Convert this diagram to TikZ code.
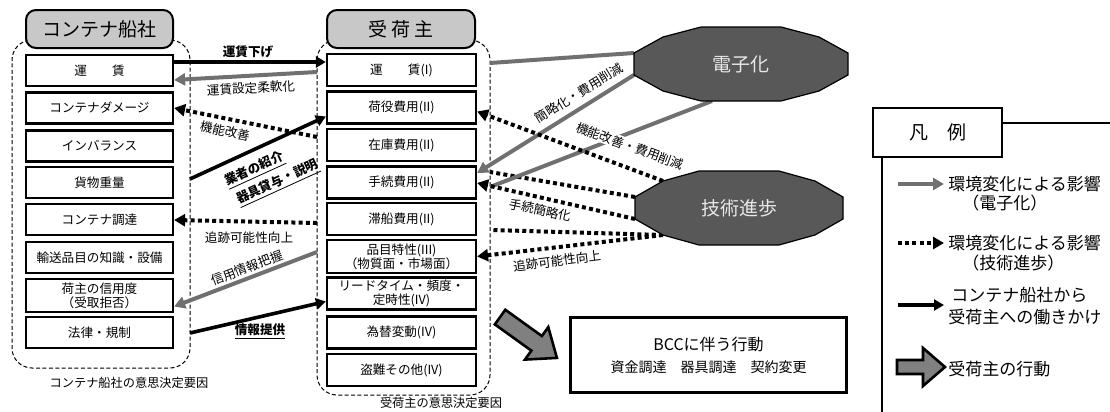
\documentclass[tikz,border=0pt]{standalone}
\usepackage{fontspec}
\setmainfont{Noto Sans CJK JP}
\usetikzlibrary{arrows.meta,calc}
\definecolor{lgray}{HTML}{707070}
\definecolor{hdrgray}{HTML}{C8C8C8}
\definecolor{octfill}{HTML}{585858}
\definecolor{octtext}{HTML}{E8E8E8}
\definecolor{blkfill}{HTML}{808080}
\begin{document}
\begin{tikzpicture}[x=0.5pt,y=-0.5pt,
  cbox/.style={draw, line width=1.1pt, fill=white, minimum width=73.5pt, minimum height=15.5pt, inner sep=0pt, align=center, font=\fontsize{6.3pt}{7pt}\selectfont},
  mbox/.style={cbox, minimum width=74.5pt, minimum height=16pt},
  hdr/.style={draw, line width=1pt, fill=hdrgray, rounded corners=5pt, minimum width=73.5pt, minimum height=19pt, inner sep=0pt, font=\fontsize{9.5pt}{11pt}\selectfont},
  frame/.style={draw, line width=0.5pt, dash pattern=on 2pt off 1.2pt, rounded corners=10pt, inner sep=0pt},
  lbl/.style={inner sep=0.5pt, font=\fontsize{6.3pt}{7pt}\selectfont},
  blbl/.style={inner sep=0.5pt, font=\fontsize{6.3pt}{7pt}\selectfont\bfseries},
  captxt/.style={inner sep=0pt, font=\fontsize{6.1pt}{7pt}\selectfont},
  push/.style={line width=1.8pt, -{Triangle[length=5pt,width=5.5pt]}},
  elec/.style={draw=lgray, line width=2pt},
  elecarr/.style={elec, -{Triangle[length=5.5pt,width=6pt]}},
  tech/.style={line width=2pt, dash pattern=on 2pt off 1.6pt},
  techarr/.style={tech, -{Triangle[length=5.5pt,width=6pt]}},
  octa/.style={draw, line width=0.6pt, fill=octfill},
  octlbl/.style={text=octtext, inner sep=0pt, font=\fontsize{9.5pt}{11pt}\selectfont},
  blk/.style={draw, line width=1.3pt, fill=blkfill, line join=miter},
  legtxt/.style={anchor=west, inner sep=0pt, font=\fontsize{8.5pt}{10.5pt}\selectfont},
]
\useasboundingbox (0,0) rectangle (1110,412);
% frames
\node[frame, minimum width=89pt, minimum height=164pt] (LF) at (101,204) {};
\node[frame, minimum width=86.5pt, minimum height=177.5pt] (MF) at (403.5,217.5) {};
% headers
\node[hdr] (LH) at (99.5,29) {コンテナ船社};
\node[hdr, minimum width=74pt] (MH) at (401,29) {受 荷 主};
% left boxes
\node[cbox] (L1) at (99.5,70.5) {運　　賃};
\node[cbox] (L2) at (99.5,108) {コンテナダメージ};
\node[cbox] (L3) at (99.5,146) {インバランス};
\node[cbox] (L4) at (99.5,182.5) {貨物重量};
\node[cbox] (L5) at (99.5,219.5) {コンテナ調達};
\node[cbox] (L6) at (99.5,257.5) {輸送品目の知識・設備};
\node[cbox, minimum height=16.5pt] (L7) at (99.5,295.5) {荷主の信用度\\（受取拒否）};
\node[cbox] (L8) at (99.5,332.5) {法律・規制};
% middle boxes
\node[mbox] (M1) at (401.5,70) {運　　賃(I)};
\node[mbox] (M2) at (401.5,107.5) {荷役費用(II)};
\node[mbox] (M3) at (401.5,145) {在庫費用(II)};
\node[mbox] (M4) at (401.5,182.5) {手続費用(II)};
\node[mbox] (M5) at (401.5,219) {滞船費用(II)};
\node[mbox, minimum height=16.5pt] (M6) at (401.5,256.5) {品目特性(III)\\（物質面・市場面）};
\node[mbox] (M7) at (401.5,293.5) {リードタイム・頻度・\\定時性(IV)};
\node[mbox] (M8) at (401.5,332.5) {為替変動(IV)};
\node[mbox] (M9) at (401.5,370) {盗難その他(IV)};
% captions
\node[captxt] (LC) at (129,383) {コンテナ船社の意思決定要因};
\node[captxt] (MC) at (441,403) {受荷主の意思決定要因};
% octagon anchors
\coordinate (dc) at (741,64);
\coordinate (tc) at (739,208);
\coordinate (e1) at ($(dc)+(-107,-11)$);
\coordinate (e2) at ($(dc)+(-107,11)$);
\coordinate (e3) at ($(dc)+(-29,37)$);
\coordinate (t1) at ($(tc)+(-76,-27)$);
\coordinate (t2) at ($(tc)+(-104,-11)$);
\coordinate (t3) at ($(tc)+(-104,11)$);
\coordinate (t4) at ($(tc)+(-76,27)$);
% crossing points on frames
\coordinate (mr1) at (490,63);
\coordinate (ml1) at (317,72);
\coordinate (mr2) at (490,172);
\coordinate (ml2) at (317,137);
\coordinate (mr3) at (490,187);
\coordinate (ml3) at (317,252);
\coordinate (mr4) at (492,230);
\coordinate (ml4) at (317,223);
\coordinate (lr1) at (190,179);
\coordinate (lr2) at (190,333);
% connectors
\draw[push] ($(L1.east)+(0,-8.5)$) -- ($(M1.west)+(0,-8)$);
\node[blbl] (lbA) at (248,54) {\underline{運賃下げ}};
\draw[elec] (e1) -- (mr1);
\draw[elecarr] (ml1) -- ($(L1.east)+(0,9.5)$);
\node[lbl, rotate=3] (lbB) at (251,88) {運賃設定柔軟化};
\draw[tech] (t2) -- (mr2);
\draw[techarr] (ml2) -- (L2.east);
\node[lbl, rotate=-12] (lbC) at (225,131) {機能改善};
\draw[push] (lr1) -- ($(M2.west)+(0,9)$);
\node[blbl, rotate=24.5] (lbD) at (255,170) {\underline{業者の紹介}};
\node[blbl, rotate=24.5] (lbE) at (278,183) {\underline{器具貸与・説明}};
\draw[elecarr] (e2) -- ($(M4.east)+(0,-9.5)$);
\node[lbl, rotate=31.6] (lbF) at (579,93) {簡略化・費用削減};
\draw[elec] (e3) -- (mr3);
\draw[elecarr] (ml3) -- ($(L7.east)+(0,11)$);
\node[lbl, rotate=21] (lbG) at (247,268) {信用情報把握};
\node[lbl, rotate=-20, fill=white] (lbH) at (630,146) {機能改善・費用削減};
\draw[techarr] (t1) -- ($(M2.east)+(0,4)$);
\draw[techarr] (t3) -- ($(M4.east)+(0,0.5)$);
\node[lbl, rotate=-12] (lbI) at (540,210) {手続簡略化};
\draw[tech] (t4) -- (mr4);
\draw[techarr] (ml4) -- ($(L5.east)+(0,0.5)$);
\node[lbl] (lbJ) at (249,238) {追跡可能性向上};
\draw[techarr] (t4) -- (M6.east);
\node[lbl, rotate=7] (lbK) at (557,261) {追跡可能性向上};
\draw[push] (lr2) -- ($(M7.west)+(0,8)$);
\node[blbl] (lbL) at (260,332) {\underline{情報提供}};
% octagons
\draw[octa, shift={(dc)}] (-107,-11) -- (-78,-27) -- (-40,-37) -- (40,-37) -- (78,-27) -- (107,-11) -- (107,11) -- (78,27) -- (40,37) -- (-40,37) -- (-78,27) -- (-107,11) -- cycle;
\node[octlbl] (DZ) at (dc) {電子化};
\draw[octa, shift={(tc)}] (-104,-11) -- (-76,-27) -- (-40,-37) -- (40,-37) -- (76,-27) -- (104,-11) -- (104,11) -- (76,27) -- (40,37) -- (-40,37) -- (-76,27) -- (-104,11) -- cycle;
\node[octlbl] (GS) at (tc) {技術進歩};
% block arrow and BCC box
\draw[blk, shift={(528.5,337.5)}, rotate=-35.7] (-35,-9) -- (10,-9) -- (10,-20) -- (35,0) -- (10,20) -- (10,9) -- (-35,9) -- cycle;
\node[draw, line width=1.2pt, minimum width=138.5pt, minimum height=38pt, align=center, inner sep=0pt] (BCC) at (708.5,355) {\fontsize{8pt}{10pt}\selectfont BCCに伴う行動\\[-1pt]\fontsize{7pt}{10pt}\selectfont 資金調達　器具調達　契約変更};
\draw[line width=0.5pt] ($(BCC.south west)+(3,-3)$) rectangle ($(BCC.north east)+(-3,3)$);
% legend
\node[draw, line width=0.8pt, minimum width=64.5pt, minimum height=24.5pt, inner sep=0pt, font=\fontsize{9.5pt}{11pt}\selectfont] (HR) at (937.5,132.5) {凡　例};
\coordinate (lgR) at (1110,123);
\coordinate (lgB) at (882,412);
\draw[line width=0.9pt] (HR.east |- lgR) -- (lgR);
\draw[line width=0.9pt] (HR.south -| lgB) -- (lgB);
\coordinate (g1a) at (898,184); \coordinate (g1b) at (944,184);
\coordinate (g2a) at (898,243); \coordinate (g2b) at (944,243);
\coordinate (g3a) at (898,305); \coordinate (g3b) at (944,305);
\draw[elecarr] (g1a) -- (g1b);
\draw[techarr] (g2a) -- (g2b);
\draw[push] (g3a) -- (g3b);
\draw[blk] (897,360) -- (923,360) -- (923,348) -- (945,367) -- (923,386) -- (923,374) -- (897,374) -- cycle;
\node[legtxt] (G1) at (948,184) {環境変化による影響};
\node[legtxt] (G1s) at (962,203) {（電子化）};
\node[legtxt] (G2) at (948,243) {環境変化による影響};
\node[legtxt] (G2s) at (962,263) {（技術進歩）};
\node[legtxt] (G3) at (951,295) {コンテナ船社から};
\node[legtxt] (G3s) at (948,317) {受荷主への働きかけ};
\node[legtxt] (G4) at (948,369) {受荷主の行動};
\end{tikzpicture}
\end{document}
